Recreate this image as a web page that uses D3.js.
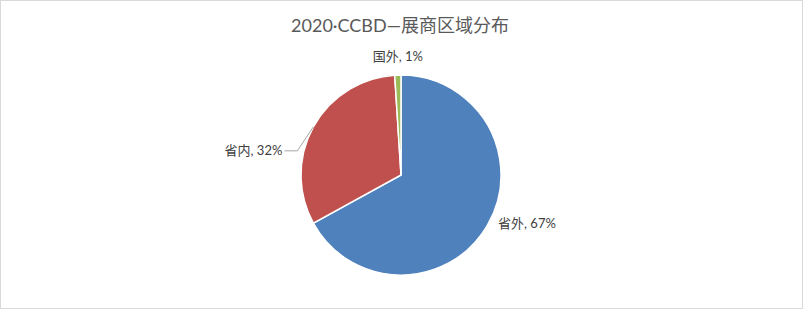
<!DOCTYPE html>
<html>
<head>
<meta charset="utf-8">
<script src="https://cdn.jsdelivr.net/npm/d3@7"></script>
<style>
  body { margin: 0; background: #fff; }
  svg { display: block; }
  text { font-family: "Lato", "Noto Sans CJK SC", sans-serif; }
</style>
</head>
<body>
<div id="chart"></div>
<script>
// chart data
var categories = ["省外", "省内", "国外"];
var values = [67, 32, 1];
var colors = ["#4F81BD", "#C0504D", "#9BBB59"];
var title = "2020·CCBD—展商区域分布";

var width = 803, height = 309;
var cx = 401, cy = 175, radius = 100;

var svg = d3.select("#chart").append("svg")
  .attr("width", width)
  .attr("height", height);

//chart frame
svg.append("rect")
  .attr("x", 0.5).attr("y", 0.5)
  .attr("width", width - 1).attr("height", height - 1)
  .attr("fill", "#fff")
  .attr("stroke", "#d9d9d9");

//title
svg.append("text")
  .attr("x", 400)
  .attr("y", 32)
  .attr("text-anchor", "middle")
  .attr("fill", "#595959")
  .style("font-size", "18px")
  .text(title);

var total = d3.sum(values);
var pie = d3.pie().sort(null).value(d => d)(values);
var arc = d3.arc().innerRadius(0).outerRadius(radius);

var g = svg.append("g").attr("transform", `translate(${cx},${cy})`);

g.selectAll("path")
  .data(pie)
  .enter().append("path")
  .attr("d", arc)
  .attr("fill", (d, i) => colors[i])
  .attr("stroke", "#fff")
  .attr("stroke-width", 1.5);

//labels
pie.forEach(function (d, i) {
  var mid = (d.startAngle + d.endAngle) / 2;
  var label = categories[i] + ", " + Math.round(values[i] / total * 100) + "%";
  var ex = Math.sin(mid) * radius, ey = -Math.cos(mid) * radius;
  var t = g.append("text")
    .attr("fill", "#404040")
    .style("font-size", "13px")
    .attr("dominant-baseline", "middle")
    .text(label);

  if (i == 0) {
    //right side, no leader
    t.attr("x", ex + 11).attr("y", ey - 1).attr("text-anchor", "start");
  } else if (i == 1) {
    //left side with leader line
    var elbow = [ex - 16, ey + 24];
    g.append("polyline")
      .attr("points", [[ex, ey], elbow, [elbow[0] - 13, elbow[1]]].map(p => p.join(",")).join(" "))
      .attr("fill", "none")
      .attr("stroke", "#a6a6a6")
      .attr("stroke-width", 1);
    t.attr("x", elbow[0] - 15).attr("y", elbow[1] + 1).attr("text-anchor", "end");
  } else {
    //top
    t.attr("x", ex).attr("y", ey - 17).attr("text-anchor", "middle");
  }
});
</script>
</body>
</html>
